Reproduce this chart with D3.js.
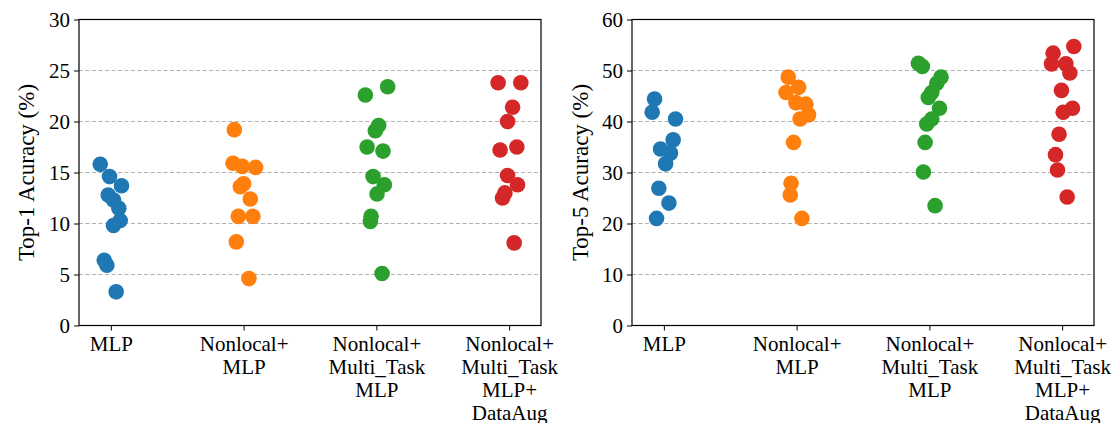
<!DOCTYPE html>
<html>
<head>
<meta charset="utf-8">
<script src="https://cdn.jsdelivr.net/npm/d3@7"></script>
<style>
    body { margin: 0; background: #fff; }
    text { font-family: "Liberation Serif", "Times New Roman", serif; fill: #000; }
</style>
</head>
<body>
<div id="the_chart"></div>
<script>
// tick labels for the 4 models (one entry per line)
var categories = [
    ["MLP"],
    ["Nonlocal+", "MLP"],
    ["Nonlocal+", "Multi_Task", "MLP"],
    ["Nonlocal+", "Multi_Task", "MLP+", "DataAug"]
];
var colors = ["#1f77b4", "#ff7f0e", "#2ca02c", "#d62728"];

// Top-1 accuracy, one list per model
var top1 = [
    [15.8, 14.6, 13.7, 12.8, 12.3, 11.5, 10.3, 9.8, 6.4, 5.9, 3.3],
    [19.2, 15.9, 15.6, 15.5, 13.9, 13.6, 12.4, 10.7, 10.7, 8.2, 4.6],
    [22.6, 23.4, 19.6, 19.1, 17.5, 17.1, 14.6, 13.8, 12.9, 10.7, 10.2, 5.1],
    [23.8, 23.8, 21.4, 20.0, 17.2, 17.5, 14.7, 13.8, 13.0, 12.5, 8.1]
];
// strip jitter (in category units)
var top1_jitter = [
    [-0.08, -0.01, 0.08, -0.02, 0.02, 0.06, 0.07, 0.02, -0.05, -0.03, 0.04],
    [-0.07, -0.08, -0.01, 0.09, 0.0, -0.025, 0.05, -0.04, 0.07, -0.055, 0.04],
    [-0.083, 0.085, 0.017, -0.008, -0.07, 0.05, -0.025, 0.06, 0.005, -0.04, -0.045, 0.043],
    [-0.083, 0.088, 0.026, -0.012, -0.068, 0.058, -0.012, 0.063, -0.032, -0.05, 0.038]
];

// Top-5 accuracy
var top5 = [
    [44.4, 41.8, 40.5, 36.4, 34.6, 33.8, 31.7, 26.9, 24.0, 21.0],
    [48.7, 46.7, 45.7, 43.7, 43.4, 41.3, 40.5, 35.9, 27.9, 25.6, 21.0],
    [51.4, 50.8, 48.7, 47.5, 45.7, 44.7, 42.6, 40.5, 39.5, 35.9, 30.1, 23.5],
    [54.7, 53.4, 51.3, 51.3, 49.5, 46.1, 42.6, 41.8, 37.5, 33.5, 30.5, 25.2]
];
var top5_jitter = [
    [-0.07, -0.088, 0.088, 0.07, -0.025, 0.05, 0.013, -0.038, 0.038, -0.055],
    [-0.063, 0.015, -0.08, -0.005, 0.07, 0.09, 0.026, -0.023, -0.042, -0.048, 0.04],
    [-0.083, -0.053, 0.088, 0.056, 0.018, -0.008, 0.076, 0.018, -0.02, -0.032, -0.045, 0.043],
    [0.088, -0.068, -0.08, 0.028, 0.058, -0.005, 0.078, 0.008, -0.023, -0.05, -0.035, 0.038]
];

var top1_ticks = [0, 5, 10, 15, 20, 25, 30];
var top5_ticks = [0, 10, 20, 30, 40, 50, 60];

var w = 1112;
var h = 423;
var font = "'Liberation Serif', 'Times New Roman', serif";

var svg = d3.select("#the_chart")
    .append("svg")
    .attr("width", w)
    .attr("height", h);

stripPlot(79, 541, top1, top1_jitter, top1_ticks, "Top-1 Acuracy (%)", 26);
stripPlot(632, 1094, top5, top5_jitter, top5_ticks, "Top-5 Acuracy (%)", 580);

function stripPlot(x0, x1, values, jitter, ticks, label, label_x) {
    var top = 19.5;
    var bottom = 325.5;
    var r = 7.8;

    var g = svg.append("g");

    var xscale = d3.scaleLinear()
        .domain([-0.24, 3.24])
        .range([x0, x1]);

    var yscale = d3.scaleLinear()
        .domain([ticks[0], ticks[ticks.length - 1]])
        .range([bottom, top]);

    // dashed grid lines (not on 0 and top)
    g.selectAll("line.grid")
        .data(ticks.slice(1, ticks.length - 1))
        .enter().append("line")
        .attr("class", "grid")
        .attr("x1", x0)
        .attr("x2", x1)
        .attr("y1", function(d) { return yscale(d); })
        .attr("y2", function(d) { return yscale(d); })
        .attr("stroke", "#b0b0b0")
        .attr("stroke-width", 1)
        .attr("stroke-dasharray", "4,2.5");

    // one point per run
    var points = [];
    values.forEach(function(list, i) {
        list.forEach(function(v, j) {
            points.push({ cat: i, value: v, off: jitter[i][j] });
        });
    });

    g.selectAll("circle")
        .data(points)
        .enter().append("circle")
        .attr("r", r)
        .attr("fill", function(d) { return colors[d.cat]; })
        .attr("cx", function(d) { return xscale(d.cat + d.off); })
        .attr("cy", function(d) { return yscale(d.value); });

    // y axis
    var yaxis = d3.axisLeft(yscale)
        .tickValues(ticks)
        .tickSize(5)
        .tickPadding(4);
    var ya = g.append("g")
        .attr("transform", "translate(" + x0 + ",0)")
        .call(yaxis);
    ya.attr("font-family", null);
    ya.select(".domain").remove();
    ya.selectAll("text")
        .style("font-family", font)
        .style("font-size", "21px");

    // x axis with multi-line labels
    var xaxis = d3.axisBottom(xscale)
        .tickValues([0, 1, 2, 3])
        .tickSize(5)
        .tickFormat("");
    var xa = g.append("g")
        .attr("transform", "translate(0," + bottom + ")")
        .call(xaxis);
    xa.attr("font-family", null);
    xa.select(".domain").remove();

    xa.selectAll(".tick")
        .append("text")
        .attr("text-anchor", "middle")
        .style("font-family", font)
        .style("font-size", "21px")
        .selectAll("tspan")
        .data(function(d) { return categories[d]; })
        .enter().append("tspan")
        .attr("x", 0)
        .attr("y", function(d, i) { return 25 + i * 23; })
        .text(function(d) { return d; });

    // frame
    g.append("rect")
        .attr("x", x0)
        .attr("y", top)
        .attr("width", x1 - x0)
        .attr("height", bottom - top)
        .attr("fill", "none")
        .attr("stroke", "#000")
        .attr("stroke-width", 1.2);

    // y label
    g.append("text")
        .attr("transform", "translate(" + label_x + "," + ((top + bottom) / 2) + ") rotate(-90)")
        .attr("text-anchor", "middle")
        .attr("dy", "0.35em")
        .style("font-family", font)
        .style("font-size", "23px")
        .text(label);
}
</script>
</body>
</html>
